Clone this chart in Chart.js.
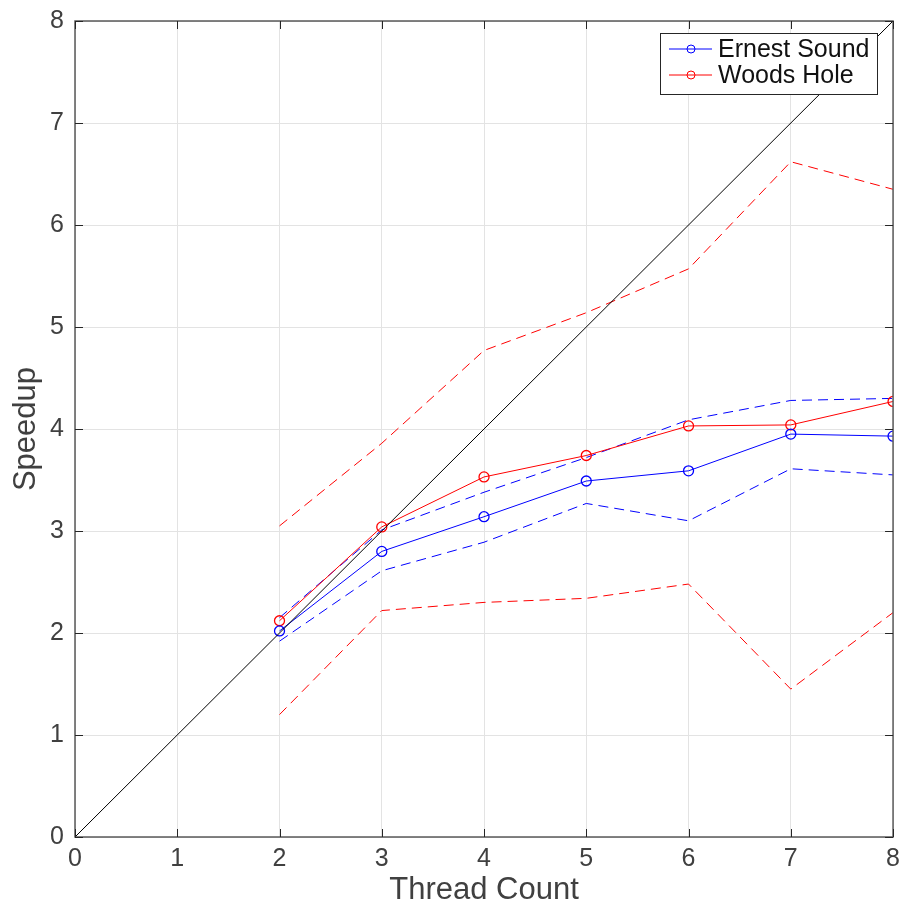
<!DOCTYPE html>
<html>
<head>
<meta charset="utf-8">
<script src="https://cdn.jsdelivr.net/npm/chart.js@4.4.1/dist/chart.umd.min.js"></script>
<style>
  html, body { margin: 0; padding: 0; background: #fff; overflow: hidden; }
  #wrap { width: 903px; height: 909px; overflow: hidden; position: relative; }
  #myChart { position: absolute; left: 0; top: -5px; }
</style>
</head>
<body>
<div id="wrap"><canvas id="myChart" width="907" height="914"></canvas></div>
<script>
// datos
const hilos = [2, 3, 4, 5, 6, 7, 8];
const ernestMedia = [2.02, 2.80, 3.14, 3.49, 3.59, 3.95, 3.93];
const ernestAlto = [2.15, 3.01, 3.38, 3.72, 4.09, 4.28, 4.30];
const ernestBajo = [1.92, 2.61, 2.89, 3.27, 3.10, 3.61, 3.55];
const woodsMedia = [2.12, 3.04, 3.53, 3.74, 4.03, 4.04, 4.27];
const woodsAlto = [3.05, 3.86, 4.77, 5.14, 5.57, 6.62, 6.35];
const woodsBajo = [1.20, 2.22, 2.30, 2.34, 2.48, 1.45, 2.20];
const ideal = [0, 8];
const ticksX = [0, 1, 2, 3, 4, 5, 6, 7, 8];
const ticksY = [0, 1, 2, 3, 4, 5, 6, 7, 8];
const nombres = ['Ernest Sound', 'Woods Hole'];

const AZUL = 'rgb(0,0,255)';
const ROJO = 'rgb(255,0,0)';
const GRIS = '#404040';
const fuente = '"Liberation Sans", Helvetica, Arial, sans-serif';

function puntos(xs, ys) {
    return xs.map((x, i) => ({ x: x, y: ys[i] }));
}

function serie(label, xs, ys, color, tipo) {
    const d = {
        label: label,
        data: puntos(xs, ys),
        borderColor: color,
        backgroundColor: color,
        borderWidth: 1,
        fill: false,
        tension: 0,
        pointRadius: 0
    };
    if (tipo == 'media') {
        d.pointRadius = 5;
        d.pointStyle = 'circle';
        d.pointBorderColor = color;
        d.pointBackgroundColor = 'rgba(0,0,0,0)';
        d.pointBorderWidth = 1.3;
    } else if (tipo == 'dash') {
        d.borderDash = [10, 6];
    }
    return d;
}

// marco, ticks hacia adentro y leyenda (estilo matlab)
const marcoPlugin = {
    id: 'marco',
    afterDraw(chart) {
        const ctx = chart.ctx;
        const a = chart.chartArea;
        const sx = chart.scales.x;
        const sy = chart.scales.y;
        ctx.save();
        ctx.strokeStyle = '#5a5a5a';
        ctx.lineWidth = 1.5;
        ctx.strokeRect(a.left, a.top, a.right - a.left, a.bottom - a.top);
        ctx.strokeStyle = '#262626';
        ctx.lineWidth = 1;
        const largo = 8;
        ticksX.forEach(v => {
            const px = Math.round(sx.getPixelForValue(v)) + 0.5;
            ctx.beginPath();
            ctx.moveTo(px, a.bottom); ctx.lineTo(px, a.bottom - largo);
            ctx.moveTo(px, a.top); ctx.lineTo(px, a.top + largo);
            ctx.stroke();
        });
        ticksY.forEach(v => {
            const py = Math.round(sy.getPixelForValue(v)) + 0.5;
            ctx.beginPath();
            ctx.moveTo(a.left, py); ctx.lineTo(a.left + largo, py);
            ctx.moveTo(a.right, py); ctx.lineTo(a.right - largo, py);
            ctx.stroke();
        });

        // leyenda (coordenadas del lienzo, que esta desplazado 5px hacia arriba)
        const lx = 660, ly = 38, lw = 217, lh = 61;
        ctx.fillStyle = '#fff';
        ctx.fillRect(lx, ly, lw, lh);
        ctx.strokeStyle = '#262626';
        ctx.lineWidth = 1;
        ctx.strokeRect(lx + 0.5, ly + 0.5, lw, lh);
        const colores = [AZUL, ROJO];
        ctx.font = '25px ' + fuente;
        ctx.textBaseline = 'middle';
        nombres.forEach((n, i) => {
            const y = ly + 16 + i * 26;
            ctx.strokeStyle = colores[i];
            ctx.beginPath();
            ctx.moveTo(lx + 9, y); ctx.lineTo(lx + 52, y);
            ctx.stroke();
            ctx.beginPath();
            ctx.arc(lx + 31, y, 4, 0, Math.PI * 2);
            ctx.stroke();
            ctx.fillStyle = '#111';
            ctx.fillText(n, lx + 58, y + 1);
        });
        ctx.restore();
    }
};

const ctx = document.querySelector('#myChart').getContext('2d');
const chart = new Chart(ctx, {
    type: 'line',
    data: {
        datasets: [
            serie('ideal', ideal, ideal, '#000', 'linea'),
            serie(nombres[0], hilos, ernestMedia, AZUL, 'media'),
            serie(nombres[1], hilos, woodsMedia, ROJO, 'media'),
            serie('es alto', hilos, ernestAlto, AZUL, 'dash'),
            serie('es bajo', hilos, ernestBajo, AZUL, 'dash'),
            serie('wh alto', hilos, woodsAlto, ROJO, 'dash'),
            serie('wh bajo', hilos, woodsBajo, ROJO, 'dash')
        ]
    },
    options: {
        responsive: false,
        animation: false,
        layout: { padding: { top: 6, right: 2, left: 0, bottom: 0 } },
        plugins: {
            legend: { display: false },
            tooltip: { enabled: false }
        },
        scales: {
            x: {
                type: 'linear',
                min: 0, max: 8,
                afterBuildTicks: s => { s.ticks = ticksX.map(v => ({ value: v })); },
                afterFit: s => { s.height = 72; },
                grid: { color: '#e3e3e3', drawTicks: false },
                border: { display: false },
                ticks: {
                    color: GRIS,
                    font: { family: fuente, size: 25 },
                    padding: 7,
                    maxRotation: 0
                },
                title: {
                    display: true,
                    text: 'Thread Count',
                    color: GRIS,
                    font: { family: fuente, size: 31 },
                    padding: { top: 0, bottom: 0 }
                }
            },
            y: {
                type: 'linear',
                min: 0, max: 8,
                afterBuildTicks: s => { s.ticks = ticksY.map(v => ({ value: v })); },
                afterFit: s => { s.width = 75; },
                grid: { color: '#e3e3e3', drawTicks: false },
                border: { display: false },
                ticks: {
                    color: GRIS,
                    font: { family: fuente, size: 25 },
                    padding: 11
                },
                title: {
                    display: true,
                    text: 'Speedup',
                    color: GRIS,
                    font: { family: fuente, size: 31 },
                    padding: { top: 8, bottom: 0 }
                }
            }
        }
    },
    plugins: [marcoPlugin]
});
</script>
</body>
</html>
